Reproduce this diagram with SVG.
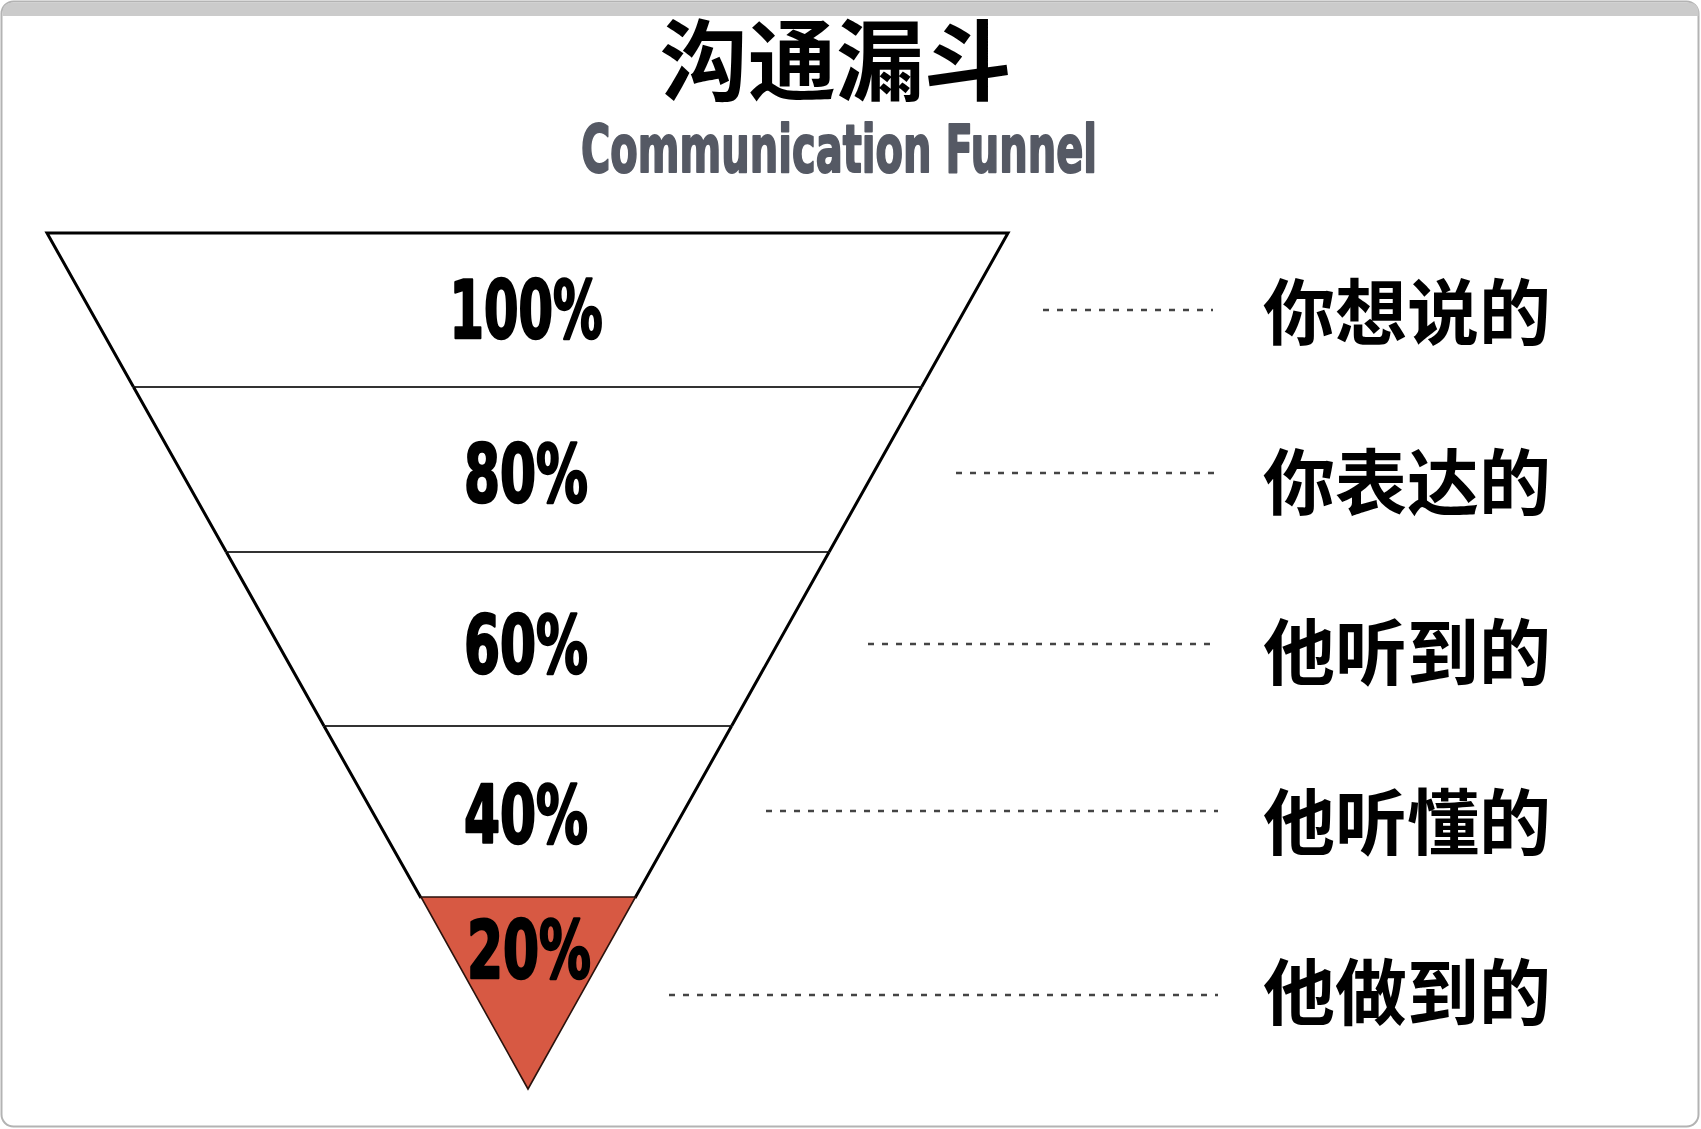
<svg xmlns="http://www.w3.org/2000/svg" width="1701" height="1129" viewBox="0 0 1701 1129">
  <style>
    .cjk { font-family: "Noto Sans CJK SC", "Noto Sans", sans-serif; font-weight: bold; fill: #000; }
    .pct { font-family: "Liberation Sans Narrow", "DejaVu Sans Condensed", "Liberation Sans", sans-serif; font-weight: bold; font-size: 80px; fill: #000; stroke: #000; stroke-width: 2.5; stroke-linejoin: round; text-anchor: middle; }
    .sub { font-family: "Liberation Sans Narrow", "DejaVu Sans Condensed", "Liberation Sans", sans-serif; font-weight: bold; font-size: 66px; fill: #555964; stroke: #555964; stroke-width: 2; stroke-linejoin: round; }
    .edge { stroke: #000; stroke-width: 3; fill: none; stroke-linejoin: miter; }
    .divider { stroke: #333; stroke-width: 2.2; }
    .dash { stroke: #444; stroke-width: 2.4; stroke-dasharray: 6 8; fill: none; }
  </style>

  <!-- window frame -->
  <g id="frame">
    <rect x="1.5" y="1.5" width="1697" height="1125" rx="12" fill="#fff" stroke="#b3b3b3" stroke-width="2"/>
    <path d="M2.5,16 V13 Q2.5,2.5 13,2.5 H1688 Q1698.5,2.5 1698.5,13 V16 Z" fill="#cbcbcb"/>
  </g>

  <!-- title -->
  <g id="title">
    <text class="cjk" x="836" y="93" font-size="88" text-anchor="middle">沟通漏斗</text>
    <text class="sub" x="581" y="172" textLength="516" lengthAdjust="spacingAndGlyphs">Communication Funnel</text>
  </g>

  <!-- funnel layers -->
  <g id="layer-100">
    <path class="edge" d="M133.5,387 L47,233 H1008 L921.6,387"/>
    <text class="pct" x="526" y="338" textLength="153" lengthAdjust="spacingAndGlyphs">100%</text>
  </g>
  <g id="layer-80">
    <line class="divider" x1="133.5" y1="387" x2="921.6" y2="387"/>
    <path class="edge" d="M133.5,387 L226.3,552 M921.6,387 L829.1,552"/>
    <text class="pct" x="526" y="502" textLength="124" lengthAdjust="spacingAndGlyphs">80%</text>
  </g>
  <g id="layer-60">
    <line class="divider" x1="226.3" y1="552" x2="829.1" y2="552"/>
    <path class="edge" d="M226.3,552 L324,726 M829.1,552 L731.6,726"/>
    <text class="pct" x="526" y="673" textLength="124" lengthAdjust="spacingAndGlyphs">60%</text>
  </g>
  <g id="layer-40">
    <line class="divider" x1="324" y1="726" x2="731.6" y2="726"/>
    <path class="edge" d="M324,726 L421,898 M731.6,726 L635,898"/>
    <text class="pct" x="526" y="843" textLength="124" lengthAdjust="spacingAndGlyphs">40%</text>
  </g>
  <g id="layer-20">
    <polygon points="421,897 635.5,897 528,1089" fill="#d75943" stroke="#2a120c" stroke-width="1.6" stroke-linejoin="miter"/>
    <text class="pct" x="529" y="978" textLength="124" lengthAdjust="spacingAndGlyphs">20%</text>
  </g>

  <!-- connectors from layers to labels -->
  <g id="connectors">
    <line class="dash" x1="1043" y1="310" x2="1213" y2="310"/>
    <line class="dash" x1="956" y1="473" x2="1218" y2="473"/>
    <line class="dash" x1="868" y1="644" x2="1218" y2="644"/>
    <line class="dash" x1="766" y1="811" x2="1218" y2="811"/>
    <line class="dash" x1="669" y1="995" x2="1218" y2="995"/>
  </g>

  <!-- labels -->
  <g id="label-1"><text class="cjk" x="1263" y="339" font-size="72">你想说的</text></g>
  <g id="label-2"><text class="cjk" x="1263" y="509" font-size="72">你表达的</text></g>
  <g id="label-3"><text class="cjk" x="1263" y="679" font-size="72">他听到的</text></g>
  <g id="label-4"><text class="cjk" x="1263" y="849" font-size="72">他听懂的</text></g>
  <g id="label-5"><text class="cjk" x="1263" y="1019" font-size="72">他做到的</text></g>
</svg>
